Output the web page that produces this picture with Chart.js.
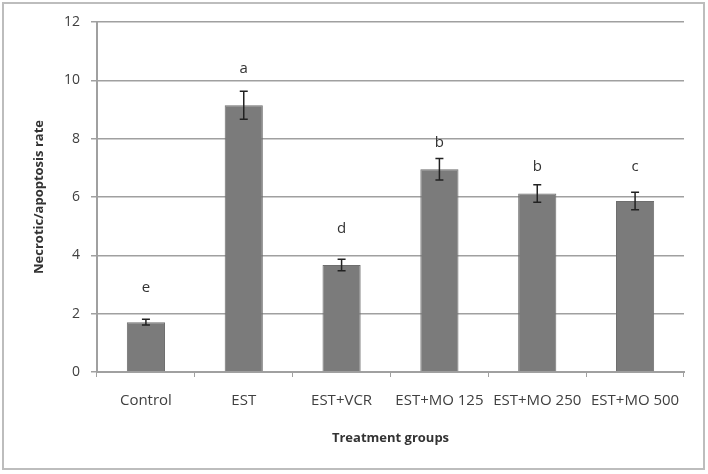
<!DOCTYPE html>
<html>
<head>
<meta charset="utf-8">
<script src="https://cdn.jsdelivr.net/npm/chart.js@4"></script>
<style>
  html, body { margin: 0; padding: 0; background: #fff; }
  #wrap { width: 708px; height: 474px; position: relative; }
</style>
</head>
<body>
<div id="wrap"><canvas id="chart"></canvas></div>
<script>
const groups = ['Control', 'EST', 'EST+VCR', 'EST+MO 125', 'EST+MO 250', 'EST+MO 500'];
const rates = [1.71, 9.15, 3.67, 6.95, 6.12, 5.86];
const errors = [0.1, 0.48, 0.2, 0.37, 0.3, 0.3];
const letters = ['e', 'a', 'd', 'b', 'b', 'c'];
const letterY = [2.88, 10.39, 4.9, 7.85, 7.03, 7.03];
const yTicks = [0, 2, 4, 6, 8, 10, 12];

const font = "'Open Sans', 'DejaVu Sans', sans-serif";

// outer frame around the figure
const framePlugin = {
  id: 'frame',
  beforeDraw(chart) {
    const ctx = chart.ctx;
    ctx.save();
    ctx.fillStyle = '#fff';
    ctx.fillRect(0, 0, chart.width, chart.height);
    ctx.strokeStyle = '#bdbdbd';
    ctx.lineWidth = 2;
    ctx.strokeRect(3, 3, 701, 466);
    ctx.restore();
  }
};

// error bars + significance letters
const errorPlugin = {
  id: 'errors',
  afterDatasetsDraw(chart) {
    const ctx = chart.ctx;
    const x = chart.scales.x, y = chart.scales.y;
    ctx.save();
    ctx.strokeStyle = '#222';
    ctx.lineWidth = 1.5;
    rates.forEach((v, i) => {
      const cx = x.getPixelForValue(i);
      const top = y.getPixelForValue(v + errors[i]);
      const bot = y.getPixelForValue(v - errors[i]);
      ctx.beginPath();
      ctx.moveTo(cx, top); ctx.lineTo(cx, bot);
      ctx.moveTo(cx - 4, top); ctx.lineTo(cx + 4, top);
      ctx.moveTo(cx - 4, bot); ctx.lineTo(cx + 4, bot);
      ctx.stroke();
    });
    ctx.fillStyle = '#333';
    ctx.font = '15px ' + font;
    ctx.textAlign = 'center';
    ctx.textBaseline = 'middle';
    letters.forEach((t, i) => {
      ctx.fillText(t, x.getPixelForValue(i), y.getPixelForValue(letterY[i]));
    });
    ctx.restore();
  }
};

new Chart(document.getElementById('chart'), {
  type: 'bar',
  data: {
    labels: groups,
    datasets: [{
      data: rates,
      backgroundColor: '#7b7b7b',
      borderColor: '#6e6e6e',
      borderWidth: 1,
      barPercentage: 0.39,
      categoryPercentage: 1
    }]
  },
  options: {
    responsive: true,
    maintainAspectRatio: false,
    animation: false,
    layout: { padding: { top: 22, right: 24, left: 0, bottom: 0 } },
    plugins: { legend: { display: false }, tooltip: { enabled: false } },
    scales: {
      x: {
        grid: { display: true, drawOnChartArea: false, color: '#a0a0a0', tickLength: 5, offset: true },
        border: { color: '#a0a0a0', width: 2 },
        ticks: { color: '#404040', font: { family: font, size: 15 }, padding: 15, maxRotation: 0, autoSkip: false },
        title: { display: true, text: 'Treatment groups', color: '#333', font: { family: font, size: 13, weight: 'bold' }, padding: { top: 4, bottom: 28 } },
        afterFit(s) { s.height = 102; }
      },
      y: {
        min: 0, max: 12,
        afterBuildTicks(s) { s.ticks = yTicks.map(v => ({ value: v })); },
        grid: { color: '#a0a0a0', lineWidth: 1.5, tickLength: 6 },
        border: { color: '#a0a0a0', width: 2 },
        ticks: { color: '#404040', font: { family: font, size: 14 }, padding: 11 },
        title: { display: true, text: 'Necrotic/apoptosis rate', color: '#333', font: { family: font, size: 13, weight: 'bold' }, padding: { top: 31, bottom: 0 } },
        afterFit(s) { s.width = 97; }
      }
    }
  },
  plugins: [framePlugin, errorPlugin]
});
</script>
</body>
</html>
